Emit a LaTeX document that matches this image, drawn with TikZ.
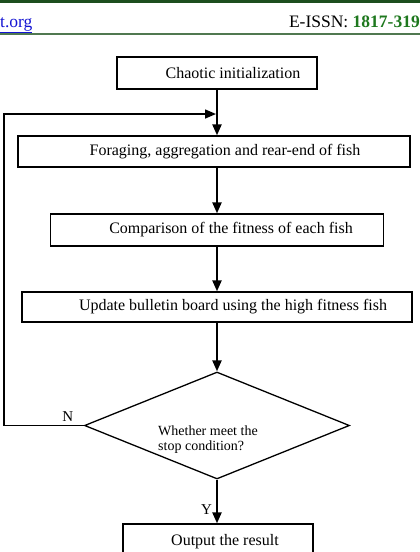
\documentclass[tikz,border=0pt]{standalone}
\usepackage{fontspec}
\setmainfont{Liberation Serif}
\usetikzlibrary{shapes.geometric,arrows.meta}
\definecolor{headgreen}{RGB}{28,78,30}
\definecolor{rulegreen}{RGB}{80,120,80}
\definecolor{numgreen}{RGB}{30,120,30}
\definecolor{linkblue}{RGB}{20,20,210}

\begin{document}
\begin{tikzpicture}[x=1pt,y=-1pt,
    stepbox/.style={draw,line width=1.3pt,inner sep=0pt,font=\fontsize{16}{19}\selectfont},
    decision/.style={draw,diamond,line width=1.3pt,inner sep=0pt,minimum width=265pt,minimum height=107pt},
    flow/.style={line width=2.2pt,-{Triangle[length=11pt,width=9pt]}},
    tag/.style={font=\fontsize{15}{17}\selectfont}]
                        \useasboundingbox (0,0) rectangle (420,552);
                        \clip (0,0) rectangle (420,552);
                        % page head
                        \fill[headgreen] (0,0) rectangle (420,3);
                        \draw[rulegreen,line width=1.5pt] (0,34) -- (420,34);
                        \node[anchor=base west,inner sep=0pt,text=linkblue,font=\fontsize{17.5}{20}\selectfont] (site) at (0,27) {\underline{t.org}};
                        \node[anchor=base east,inner sep=0pt,font=\fontsize{17.5}{20}\selectfont] (issn) at (420,27) {E-ISSN: \textbf{\color{numgreen}1817-319}};
                        % flow chart
                        \node[stepbox,minimum width=200pt,minimum height=32pt] (init) at (217,73) {\hspace*{32pt}Chaotic initialization};
                        \node[stepbox,minimum width=392pt,minimum height=31pt] (forage) at (214,151.5) {\hspace*{22pt}Foraging, aggregation and rear-end of fish};
                        \node[stepbox,minimum width=333pt,minimum height=32pt] (compare) at (217,230) {\hspace*{28pt}Comparison of the fitness of each fish};
                        \node[stepbox,minimum width=390pt,minimum height=30pt] (update) at (217,307) {\hspace*{32pt}Update bulletin board using the high fitness fish};
                        \node[decision] (stop) at (217,425.5) {};
                        \node[anchor=west,inner sep=0pt,align=left,font=\fontsize{14}{15}\selectfont] (stoptxt) at (158,440) {Whether meet the\\stop condition?};
                        \node[stepbox,minimum width=190pt,minimum height=36pt] (output) at (218,542) {\hspace*{14pt}Output the result};
                        \coordinate (join) at (216,114);
                        \draw[flow] (init) -- (init |- forage.north);
                        \draw[flow] (compare.north |- forage.south) -- (compare.north);
                        \draw[flow] (compare) -- (compare |- update.north);
                        \draw[flow] (update.south) -- (stop.north);
                        \draw[flow] (stop.south) -- (stop.south |- output.north) node[tag,pos=.68,left,inner sep=4pt] (lblY) {Y};
                        \draw[flow,line width=1.5pt] (stop.west) -- ++(-80,0) node[tag,pos=.2,above,inner sep=3pt] (lblN) {N} |- (join);
                        \end{tikzpicture}
\end{document}
